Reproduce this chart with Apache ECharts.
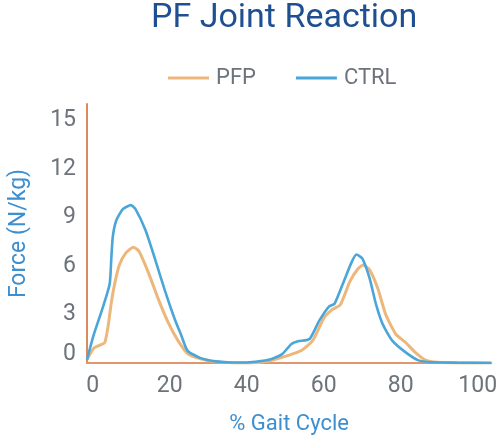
<!DOCTYPE html>
<html>
<head>
<meta charset="utf-8">
<script src="https://cdn.jsdelivr.net/npm/echarts@6/dist/echarts.min.js"></script>
<style>html,body{margin:0;padding:0;background:#fff}#c{width:500px;height:440px}</style>
</head>
<body>
<div id="c"></div>
<script>
var titleText = 'PF Joint Reaction';
var seriesNames = ['PFP', 'CTRL'];
var xTicks = [0, 20, 40, 60, 80, 100];
var yTicks = [0, 3, 6, 9, 12, 15];

var pfpX = [-1.5, 0.2, 1.9, 3.1, 4.0, 4.8, 5.7, 6.9, 8.6, 10.5, 12.0, 14.5, 17.1, 19.6, 22.1, 24.7, 28, 31.3, 36, 40.7, 45.7, 50.8, 54.2, 57.1, 60.1, 62.2, 64.3, 66.8, 69, 70.2, 71.9, 74, 76.1, 78.7, 81.2, 83.7, 86.3, 89.6, 95, 103.5];
var pfpY = [0.2, 0.9, 1.1, 1.25, 2.3, 3.7, 4.9, 6.05, 6.8, 7.15, 6.9, 5.55, 3.9, 2.5, 1.4, 0.57, 0.26, 0.1, 0.02, 0, 0.12, 0.47, 0.77, 1.38, 2.8, 3.3, 3.6, 5.04, 5.85, 6.05, 5.75, 4.63, 3.0, 1.79, 1.28, 0.67, 0.2, 0.04, 0, 0];

var ctrlX = [-1.5, 0.2, 2.7, 4.4, 4.8, 5.2, 6.1, 7.8, 9.9, 11.1, 13.7, 16.2, 18.7, 21.3, 23, 24.6, 28, 32, 36, 40.7, 45.7, 49.1, 51.6, 53.3, 56.3, 58.8, 61.4, 62.8, 65.2, 67.3, 68.5, 70.0, 71.9, 73.6, 75.3, 77.8, 81.2, 84.6, 88, 95, 103.5];
var ctrlY = [0.2, 1.7, 3.5, 4.9, 6.4, 7.8, 8.8, 9.5, 9.75, 9.5, 8.2, 6.4, 4.5, 2.7, 1.7, 0.77, 0.3, 0.1, 0.03, 0.05, 0.2, 0.53, 1.18, 1.34, 1.48, 2.6, 3.5, 3.66, 5.04, 6.26, 6.7, 6.46, 5.24, 3.6, 2.4, 1.38, 0.67, 0.16, 0.05, 0.02, 0];

function pairs(xs, ys) { return xs.map(function (x, i) { return [x, ys[i]]; }); }

var font = 'Roboto, "Noto Sans", sans-serif';
var labelColor = '#6d737b';
var nameColor = '#3d8fd0';
var chart = echarts.init(document.getElementById('c'), null, {renderer: 'canvas'});
chart.setOption({
  animation: false,
  backgroundColor: '#fff',
  textStyle: {fontFamily: font},
  title: {
    text: titleText, left: 151, top: 1, padding: 0,
    textStyle: {fontFamily: font, fontSize: 34, fontWeight: 'normal', color: '#1d4f91'}
  },
  legend: {
    data: seriesNames, left: 163, top: 62, icon: 'rect', itemWidth: 41, itemHeight: 3, itemGap: 40,
    textStyle: {fontFamily: font, fontSize: 22, color: labelColor, padding: [0, 0, 0, 2]}
  },
  grid: {left: 83, right: 2, top: 104, bottom: 75.5, containLabel: false},
  xAxis: {
    type: 'value', min: -1.5, max: 103.5,
    name: '% Gait Cycle', nameLocation: 'middle', nameGap: 50,
    nameTextStyle: {fontFamily: font, fontSize: 22, color: nameColor},
    axisLine: {show: true, onZero: false, lineStyle: {color: '#e3956d', width: 2}},
    axisTick: {show: false},
    splitLine: {show: false},
    axisLabel: {customValues: xTicks, fontFamily: font, fontSize: 23, color: labelColor, margin: 12}
  },
  yAxis: {
    type: 'value', min: 0, max: 16,
    name: 'Force (N/kg)', nameLocation: 'middle', nameGap: 56, nameRotate: 90,
    nameTextStyle: {fontFamily: font, fontSize: 23, color: nameColor},
    axisLine: {show: true, onZero: false, lineStyle: {color: '#d98b5f', width: 2}},
    axisTick: {show: false},
    splitLine: {show: false},
    axisLabel: {
      customValues: yTicks, fontFamily: font, fontSize: 23, color: labelColor, margin: 11,
      formatter: function (v) { return v === 0 ? '{z|0}' : String(v); },
      rich: {z: {fontFamily: font, fontSize: 23, color: labelColor, padding: [0, 0, 17, 0]}}
    }
  },
  series: [
    {name: seriesNames[0], type: 'line', data: pairs(pfpX, pfpY), smooth: 0.2, showSymbol: false,
     itemStyle: {color: '#edb77b'}, lineStyle: {color: '#edb77b', width: 3}, z: 2},
    {name: seriesNames[1], type: 'line', data: pairs(ctrlX, ctrlY), smooth: 0.2, showSymbol: false,
     itemStyle: {color: '#4aa6d9'}, lineStyle: {color: '#4aa6d9', width: 2.6}, z: 3}
  ]
});
</script>
</body>
</html>
